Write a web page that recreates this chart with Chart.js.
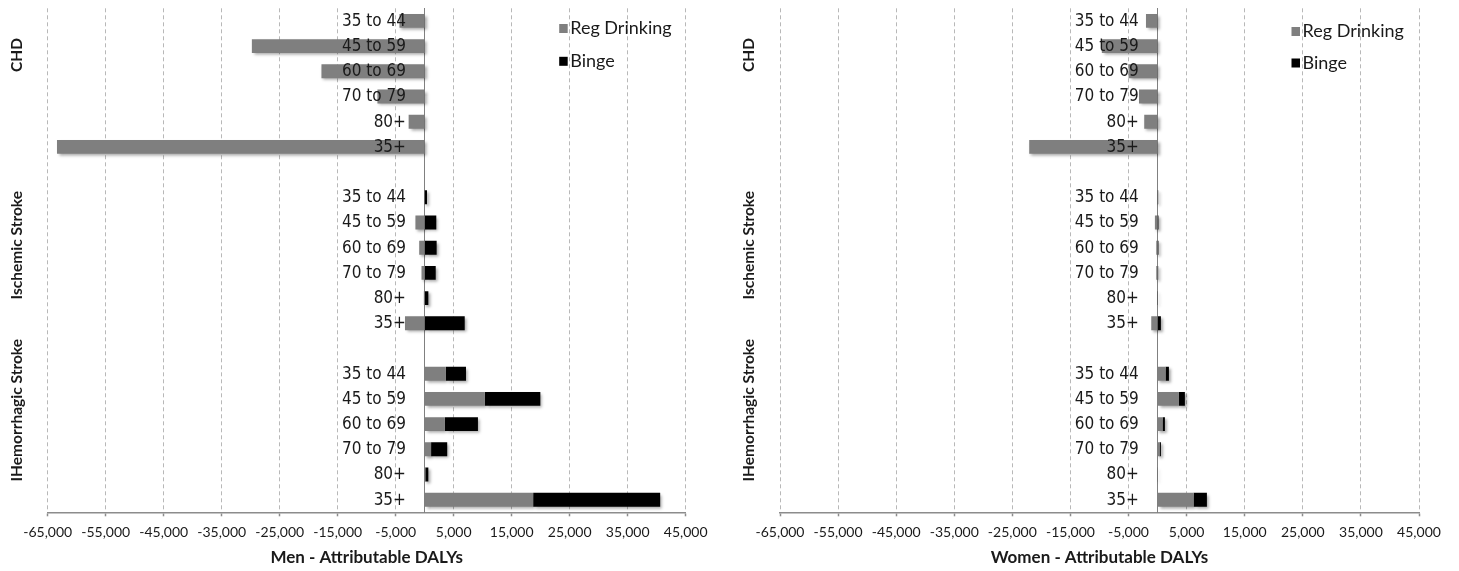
<!DOCTYPE html>
<html>
<head>
<meta charset="utf-8">
<script src="https://cdn.jsdelivr.net/npm/chart.js@4.4.1/dist/chart.umd.min.js"></script>
<style>
  html, body { margin: 0; padding: 0; background: #ffffff; }
  #wrap { position: relative; width: 1459px; height: 571px; overflow: hidden; }
  .panel { position: absolute; top: 0; height: 571px; }
</style>
</head>
<body>
<div id="wrap">
  <div class="panel" style="left:0;width:730px;"><canvas id="men" width="730" height="571"></canvas></div>
  <div class="panel" style="left:730px;width:729px;"><canvas id="women" width="729" height="571"></canvas></div>
</div>
<script>
// ---------- DATA ----------
const ageGroups = ['35 to 44', '45 to 59', '60 to 69', '70 to 79', '80+', '35+'];
const diseaseGroups = ['CHD', 'Ischemic Stroke', 'IHemorrhagic Stroke'];
const seriesNames = ['Reg Drinking', 'Binge'];
const xTickValues = [-65000, -55000, -45000, -35000, -25000, -15000, -5000, 5000, 15000, 25000, 35000, 45000];

// Men - attributable DALYs
const menRegCHD    = [-4350, -29800, -17800, -8150, -2770, -63400];
const menBingeCHD  = [0, 0, 0, 0, 0, 0];
const menRegIsch   = [-50, -1600, -950, -550, -150, -3400];
const menBingeIsch = [400, 2000, 2060, 1900, 630, 6900];
const menRegHem    = [3640, 10370, 3480, 1100, 100, 18700];
const menBingeHem  = [3480, 9570, 5700, 2780, 530, 21900];

// Women - attributable DALYs
const womenRegCHD    = [-2000, -9600, -5000, -3200, -2300, -22100];
const womenBingeCHD  = [0, 0, 0, 0, 0, 0];
const womenRegIsch   = [-100, -460, -230, -230, -50, -1090];
const womenBingeIsch = [100, 150, 150, 100, 50, 570];
const womenRegHem    = [1380, 3670, 860, 340, 50, 6200];
const womenBingeHem  = [570, 1030, 400, 230, 20, 2290];

// ---------- BUILD ----------
const rowLabels = [...ageGroups, '', ...ageGroups, '', ...ageGroups];
function rows(a, b, c) { return [...a, null, ...b, null, ...c]; }

const GRAY = '#7f7f7f';
const BLACK = '#000000';
const TEXT = '#1a1a1a';
const CAT_FONT = '17px "Liberation Sans Narrow", "DejaVu Sans Condensed", Lato, sans-serif';

const barShadow = {
  id: 'barShadow',
  beforeDatasetsDraw(chart) {
    const ctx = chart.ctx;
    ctx.save();
    ctx.shadowColor = 'rgba(0,0,0,0.35)';
    ctx.shadowBlur = 3;
    ctx.shadowOffsetX = 2;
    ctx.shadowOffsetY = 2;
  },
  afterDatasetsDraw(chart) { chart.ctx.restore(); }
};

const sideLabels = {
  id: 'sideLabels',
  afterDatasetsDraw(chart, args, opts) {
    const ctx = chart.ctx;
    const y = chart.scales.y;
    const x = chart.scales.x;
    const area = chart.chartArea;
    // category labels next to the zero axis, over the bars
    ctx.save();
    ctx.fillStyle = TEXT;
    ctx.font = CAT_FONT;
    ctx.textAlign = 'right';
    ctx.textBaseline = 'middle';
    const x0 = x.getPixelForValue(0);
    chart.data.labels.forEach((lab, i) => {
      if (!lab) return;
      ctx.fillText(lab, x0 - 18.8, y.getPixelForValue(i) + 0.5);
    });
    ctx.restore();
    // group labels (rotated)
    ctx.save();
    ctx.fillStyle = TEXT;
    ctx.font = 'bold 15.5px Lato, "Open Sans", sans-serif';
    ctx.textAlign = 'center';
    ctx.textBaseline = 'middle';
    opts.groups.forEach((g, i) => {
      const cy = y.getPixelForValue(opts.groupCenters[i]);
      ctx.save();
      ctx.translate(area.left - 31, cy);
      ctx.rotate(-Math.PI / 2);
      ctx.fillText(g, 0, 0);
      ctx.restore();
    });
    ctx.restore();
    // legend
    ctx.save();
    ctx.font = '18px Lato, "Open Sans", sans-serif';
    ctx.textBaseline = 'middle';
    ctx.textAlign = 'left';
    chart.data.datasets.forEach((ds, i) => {
      const lx = area.left + 511.5;
      const ly = opts.legendY[i];
      ctx.fillStyle = ds.backgroundColor;
      ctx.fillRect(lx, ly - 4.5, 8.5, 9);
      ctx.fillStyle = TEXT;
      ctx.fillText(ds.label, lx + 11, ly);
    });
    ctx.restore();
  }
};

function makeChart(id, title, reg, binge, pad, legendY) {
  return new Chart(document.getElementById(id), {
    type: 'bar',
    data: {
      labels: rowLabels,
      datasets: [
        { label: seriesNames[0], data: reg, backgroundColor: GRAY, borderWidth: 0, categoryPercentage: 1, barPercentage: 0.55 },
        { label: seriesNames[1], data: binge, backgroundColor: BLACK, borderWidth: 0, categoryPercentage: 1, barPercentage: 0.55 }
      ]
    },
    options: {
      indexAxis: 'y',
      responsive: false,
      animation: false,
      devicePixelRatio: 1,
      layout: { padding: pad },
      plugins: {
        legend: { display: false },
        tooltip: { enabled: false },
        sideLabels: { groups: diseaseGroups, groupCenters: [1.35, 8.9, 15.45], legendY: legendY }
      },
      scales: {
        x: {
          type: 'linear',
          stacked: true,
          min: -65000,
          max: 45000,
          afterBuildTicks(s) { s.ticks = xTickValues.map(v => ({ value: v })); },
          afterFit(s) { s.height = 58.7; },
          ticks: {
            autoSkip: false, maxRotation: 0, minRotation: 0, padding: 8,
            color: TEXT,
            font: { family: 'Lato, "Open Sans", sans-serif', size: 14 },
            callback: v => Number(v).toLocaleString('en-US')
          },
          grid: {
            color: '#b8b8b8', lineWidth: 1,
            drawTicks: true, tickLength: 4, tickColor: '#8c8c8c', tickWidth: 1.5, tickBorderDash: []
          },
          border: { display: true, color: '#8c8c8c', width: 1.5, dash: [4, 3] },
          title: {
            display: true, text: title, color: TEXT,
            font: { family: 'Lato, "Open Sans", sans-serif', size: 17, weight: 'bold' },
            padding: { top: 0, bottom: 2.8 }
          }
        },
        y: {
          type: 'category',
          stacked: true,
          position: { x: 0 },
          offset: true,
          grid: { display: true, drawOnChartArea: false, drawTicks: false },
          border: { display: true, color: '#808080', width: 1 },
          ticks: { display: false, autoSkip: false }
        }
      }
    },
    plugins: [barShadow, sideLabels]
  });
}

makeChart('men', 'Men - Attributable DALYs',
  rows(menRegCHD, menRegIsch, menRegHem),
  rows(menBingeCHD, menBingeIsch, menBingeHem),
  { left: 47.7, right: 44.3, top: 8.3, bottom: 0 }, [28.5, 61.3]);

makeChart('women', 'Women - Attributable DALYs',
  rows(womenRegCHD, womenRegIsch, womenRegHem),
  rows(womenBingeCHD, womenBingeIsch, womenBingeHem),
  { left: 50, right: 40, top: 8.3, bottom: 0 }, [31.5, 63]);
</script>
</body>
</html>
